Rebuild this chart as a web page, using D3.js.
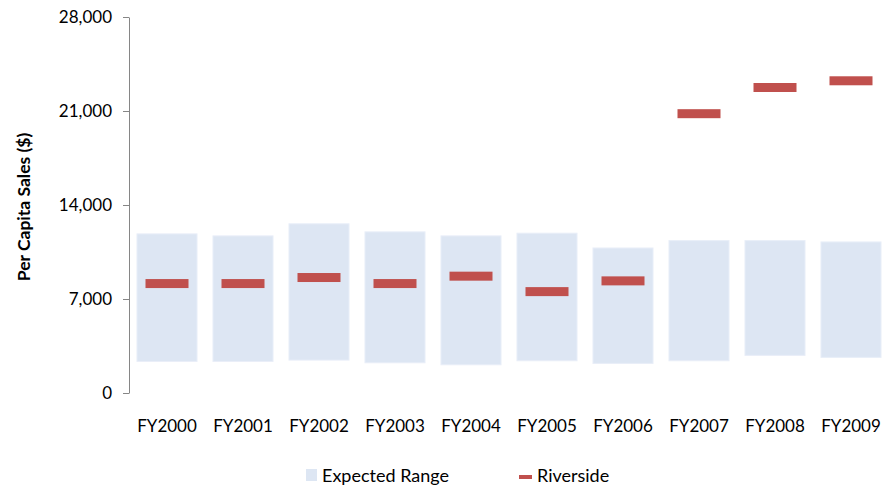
<!DOCTYPE html>
<meta charset="utf-8">
<style>
  body { margin: 0; background: #fff; }
  text { font-family: Lato, "Open Sans", sans-serif; fill: #000; }
  .axis path, .axis line { stroke: #868686; }
</style>
<script src="https://d3js.org/d3.v7.min.js"></script>
<div id="chart"></div>
<script>

  // data
  var years = ["FY2000","FY2001","FY2002","FY2003","FY2004","FY2005","FY2006","FY2007","FY2008","FY2009"]
  var rangeLow  = [2350, 2350, 2450, 2250, 2100, 2400, 2200, 2400, 2800, 2650]
  var rangeHigh = [11850, 11700, 12600, 12000, 11700, 11900, 10800, 11350, 11350, 11250]
  var riverside = [8150, 8150, 8600, 8150, 8700, 7550, 8350, 20800, 22750, 23250]
  var yTicks = [0, 7000, 14000, 21000, 28000]

  var W = 894, H = 487
  var margin = {top: 17, right: 5, bottom: 94, left: 129},
      width = W - margin.left - margin.right,
      height = H - margin.top - margin.bottom;

  var svg = d3.select("#chart")
    .append("svg")
      .attr("width", W)
      .attr("height", H)

  var g = svg.append("g")
      .attr("transform", "translate(" + margin.left + "," + margin.top + ")");

  var x = d3.scaleBand()
      .domain(years)
      .range([0, 760])
      .paddingInner(0.21)
      .paddingOuter(0.105)

  var y = d3.scaleLinear()
      .domain([0, 28000])
      .range([height, 0])

  // expected range bars
  g.selectAll(".range")
    .data(years)
    .enter().append("rect")
      .attr("class", "range")
      .attr("x", function(d) { return x(d) })
      .attr("width", x.bandwidth())
      .attr("y", function(d, i) { return y(rangeHigh[i]) })
      .attr("height", function(d, i) { return y(rangeLow[i]) - y(rangeHigh[i]) })
      .attr("fill", "#dde6f3")
      .attr("stroke", "#e9eef8")
      .attr("stroke-width", 1)

  // riverside markers
  var mw = 43, mh = 9
  g.selectAll(".mark")
    .data(years)
    .enter().append("rect")
      .attr("class", "mark")
      .attr("x", function(d) { return x(d) + (x.bandwidth() - mw) / 2 })
      .attr("width", mw)
      .attr("y", function(d, i) { return y(riverside[i]) - mh / 2 })
      .attr("height", mh)
      .attr("fill", "#c0504d")

  // y axis
  var yAxis = g.append("g")
      .attr("class", "axis")
      .call(d3.axisLeft(y)
        .tickValues(yTicks)
        .tickSize(6)
        .tickSizeOuter(0)
        .tickPadding(11)
        .tickFormat(d3.format(",")))
  yAxis.selectAll("text")
      .style("font-size", "17px")
      .attr("fill", "#000")

  // x labels (no axis line)
  g.selectAll(".xlab")
    .data(years)
    .enter().append("text")
      .attr("class", "xlab")
      .attr("x", function(d) { return x(d) + x.bandwidth() / 2 })
      .attr("y", height + 39)
      .attr("text-anchor", "middle")
      .style("font-size", "17px")
      .text(function(d) { return d })

  // y title
  svg.append("text")
      .attr("transform", "translate(30,207) rotate(-90)")
      .attr("text-anchor", "middle")
      .style("font-size", "17.5px")
      .style("font-weight", "bold")
      .text("Per Capita Sales ($)")

  // legend
  var leg = svg.append("g")
  leg.append("rect")
      .attr("x", 306).attr("y", 469)
      .attr("width", 11).attr("height", 12)
      .attr("fill", "#dde6f3")
  leg.append("text")
      .attr("x", 322).attr("y", 482)
      .style("font-size", "18px")
      .text("Expected Range")
  leg.append("rect")
      .attr("x", 519).attr("y", 475)
      .attr("width", 13).attr("height", 4)
      .attr("fill", "#c0504d")
  leg.append("text")
      .attr("x", 537).attr("y", 482)
      .style("font-size", "18px")
      .text("Riverside")

</script>
